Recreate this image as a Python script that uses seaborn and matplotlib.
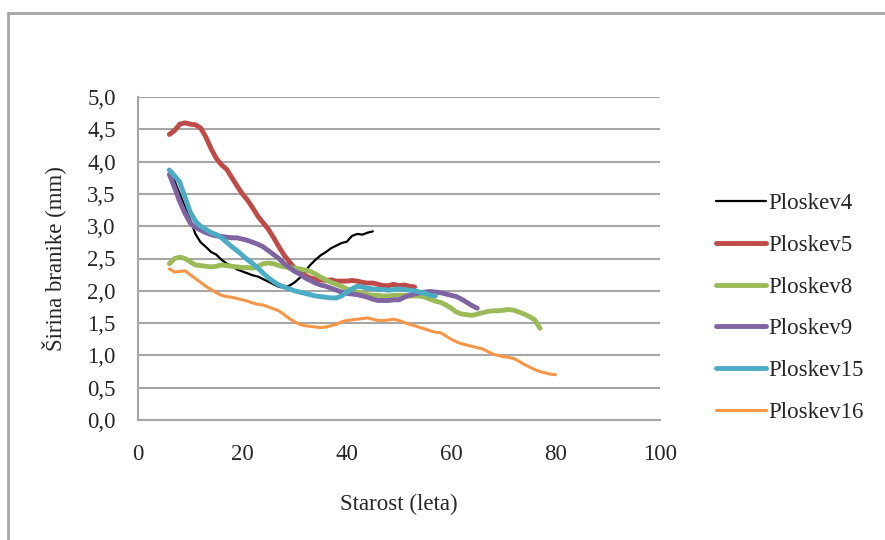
import matplotlib
matplotlib.use("Agg")
import matplotlib.pyplot as plt
from matplotlib.lines import Line2D
import seaborn as sns
import pandas as pd

# ---------------- data ----------------
series_names = ["Ploskev4", "Ploskev5", "Ploskev8", "Ploskev9", "Ploskev15", "Ploskev16"]

age_p4 = list(range(6, 46))
val_p4 = [3.85, 3.7, 3.5, 3.3, 3.1, 2.88, 2.75, 2.68, 2.6, 2.56, 2.48, 2.42, 2.38, 2.33,
          2.3, 2.27, 2.24, 2.22, 2.18, 2.14, 2.1, 2.06, 2.05, 2.08, 2.13, 2.2, 2.3, 2.4,
          2.48, 2.55, 2.6, 2.66, 2.7, 2.74, 2.76, 2.85, 2.88, 2.87, 2.9, 2.92]

age_p5 = list(range(6, 54))
val_p5 = [4.42, 4.48, 4.58, 4.6, 4.58, 4.57, 4.52, 4.38, 4.2, 4.05, 3.95, 3.88, 3.75, 3.62,
          3.5, 3.4, 3.28, 3.15, 3.05, 2.95, 2.82, 2.68, 2.55, 2.45, 2.35, 2.28, 2.24, 2.2,
          2.18, 2.17, 2.16, 2.17, 2.15, 2.15, 2.15, 2.16, 2.15, 2.13, 2.12, 2.12, 2.1, 2.08,
          2.08, 2.1, 2.08, 2.09, 2.07, 2.06]

age_p8 = list(range(6, 78))
val_p8 = [2.42, 2.5, 2.52, 2.5, 2.45, 2.4, 2.39, 2.38, 2.37, 2.38, 2.4, 2.39, 2.38, 2.37,
          2.36, 2.36, 2.35, 2.38, 2.42, 2.43, 2.42, 2.39, 2.37, 2.36, 2.35, 2.34, 2.32, 2.3,
          2.26, 2.21, 2.17, 2.13, 2.1, 2.07, 2.03, 2.0, 1.98, 1.96, 1.94, 1.93, 1.93, 1.92,
          1.92, 1.93, 1.93, 1.93, 1.92, 1.92, 1.92, 1.9, 1.87, 1.84, 1.82, 1.78, 1.73, 1.67,
          1.64, 1.63, 1.62, 1.64, 1.66, 1.68, 1.69, 1.69, 1.7, 1.71, 1.7, 1.67, 1.64, 1.6,
          1.55, 1.42]

age_p9 = list(range(6, 66))
val_p9 = [3.8, 3.6, 3.38, 3.2, 3.05, 2.98, 2.94, 2.9, 2.87, 2.85, 2.84, 2.83, 2.82, 2.82,
          2.8, 2.78, 2.75, 2.72, 2.68, 2.62, 2.56, 2.5, 2.42, 2.36, 2.3, 2.26, 2.2, 2.16,
          2.12, 2.09, 2.07, 2.04, 2.01, 1.98, 1.96, 1.95, 1.94, 1.92, 1.9, 1.87, 1.85, 1.85,
          1.85, 1.86, 1.86, 1.9, 1.93, 1.95, 1.97, 1.98, 1.99, 1.98, 1.97, 1.95, 1.93, 1.91,
          1.87, 1.82, 1.77, 1.73]

age_p15 = list(range(6, 58))
val_p15 = [3.87, 3.78, 3.68, 3.45, 3.22, 3.08, 3.0, 2.95, 2.9, 2.87, 2.82, 2.75, 2.68, 2.62,
           2.55, 2.48, 2.42, 2.35, 2.27, 2.2, 2.14, 2.09, 2.06, 2.03, 2.0, 1.98, 1.96, 1.94,
           1.92, 1.91, 1.9, 1.89, 1.89, 1.92, 1.98, 2.03, 2.07, 2.06, 2.04, 2.03, 2.02, 2.02,
           2.01, 2.02, 2.03, 2.02, 2.01, 2.0, 1.98, 1.96, 1.93, 1.92]

age_p16 = list(range(6, 81))
val_p16 = [2.34, 2.29, 2.3, 2.31, 2.25, 2.19, 2.13, 2.07, 2.02, 1.97, 1.93, 1.91, 1.9, 1.88,
           1.86, 1.84, 1.81, 1.79, 1.78, 1.75, 1.72, 1.69, 1.63, 1.57, 1.52, 1.48, 1.46, 1.45,
           1.44, 1.43, 1.44, 1.46, 1.48, 1.52, 1.54, 1.55, 1.56, 1.57, 1.58, 1.56, 1.54, 1.54,
           1.55, 1.56, 1.54, 1.51, 1.48, 1.46, 1.43, 1.41, 1.38, 1.36, 1.35, 1.3, 1.25, 1.21,
           1.18, 1.16, 1.14, 1.12, 1.1, 1.06, 1.02, 1.0, 0.98, 0.97, 0.95, 0.91, 0.86, 0.82,
           0.78, 0.75, 0.73, 0.71, 0.7]

x_ticks = [0, 20, 40, 60, 80, 100]
y_ticks = [0.0, 0.5, 1.0, 1.5, 2.0, 2.5, 3.0, 3.5, 4.0, 4.5, 5.0]
x_label = "Starost (leta)"
y_label = "Širina branike (mm)"

# ---------------- styling ----------------
colors = {"Ploskev4": "#000000", "Ploskev5": "#BE4B48", "Ploskev8": "#9BBB59",
          "Ploskev9": "#8064A2", "Ploskev15": "#4BACC6", "Ploskev16": "#F79646"}
widths = {"Ploskev4": 1.6, "Ploskev5": 3.5, "Ploskev8": 3.5,
          "Ploskev9": 3.5, "Ploskev15": 3.5, "Ploskev16": 2.2}

ages = [age_p4, age_p5, age_p8, age_p9, age_p15, age_p16]
vals = [val_p4, val_p5, val_p8, val_p9, val_p15, val_p16]
frames = []
for name, a, v in zip(series_names, ages, vals):
    frames.append(pd.DataFrame({"age": a, "width": v, "series": name}))
df = pd.concat(frames, ignore_index=True)

sns.set_theme(style="white")
plt.rcParams["font.family"] = ["Liberation Serif", "DejaVu Serif"]

fig = plt.figure(figsize=(8.85, 5.4), dpi=100)
ax = fig.add_axes([138 / 885, 1 - 420 / 540, (660 - 138) / 885, (420 - 97) / 540])

for name in series_names:
    sub = df[df["series"] == name]
    sns.lineplot(data=sub, x="age", y="width", ax=ax, color=colors[name],
                 linewidth=widths[name], legend=False, zorder=3)

grid_col = "#A6A6A6"
ax.set_xlim(0, 100)
ax.set_ylim(0, 5.0)
ax.set_xticks(x_ticks)
ax.set_yticks(y_ticks)
ax.set_xticklabels([str(t) for t in x_ticks])
ax.set_yticklabels([f"{t:.1f}".replace(".", ",") for t in y_ticks])
ax.yaxis.grid(True, color=grid_col, linewidth=1.5, zorder=0)
ax.xaxis.grid(False)
for s in ["top", "right"]:
    ax.spines[s].set_visible(False)
ax.spines["left"].set_color(grid_col)
ax.spines["left"].set_linewidth(1.5)
ax.spines["bottom"].set_color(grid_col)
ax.spines["bottom"].set_linewidth(1.5)
ax.tick_params(axis="y", length=3, color=grid_col, width=1.2, pad=13, labelsize=16.5)
ax.tick_params(axis="x", length=0, pad=17, labelsize=16.5)
ax.set_xlabel(x_label, fontsize=16.5, labelpad=21)
ax.set_ylabel(y_label, fontsize=16.5, labelpad=15)

handles = [Line2D([0], [0], color=colors[n], linewidth=widths[n]) for n in series_names]
fig.legend(handles, series_names, loc="center left",
           bbox_to_anchor=(716 / 885, 1 - 308 / 540), frameon=False,
           fontsize=16.5, handlelength=2.2, handletextpad=0.1, labelspacing=0.9,
           borderaxespad=0, borderpad=0)

# outer chart border (left/top visible, rest cut by the screenshot)
fig.add_artist(plt.Line2D([7.5 / 885, 7.5 / 885], [0, 1 - 12.5 / 540],
                          transform=fig.transFigure, color="#A6A6A6", linewidth=2))
fig.add_artist(plt.Line2D([7.5 / 885, 1], [1 - 12.5 / 540, 1 - 12.5 / 540],
                          transform=fig.transFigure, color="#A6A6A6", linewidth=2))

fig.savefig("out.png", dpi=100)
